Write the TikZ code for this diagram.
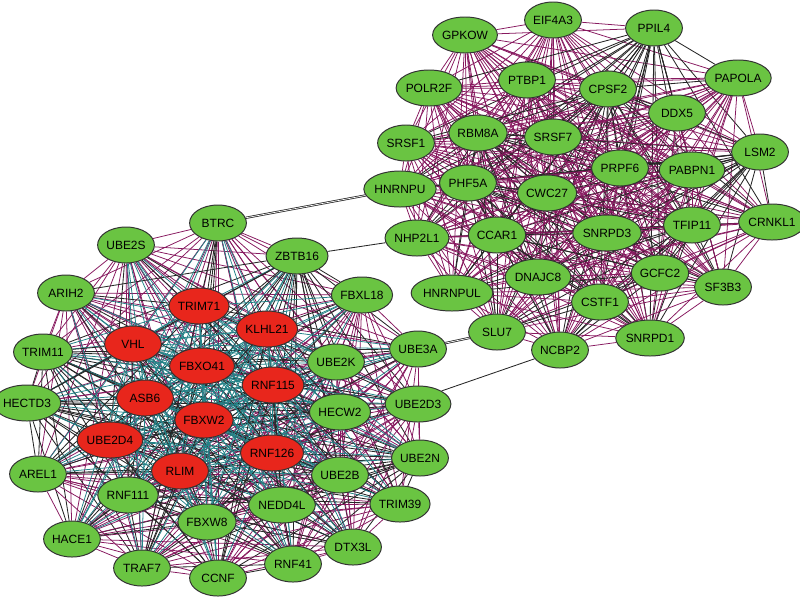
\documentclass[tikz,border=0pt]{standalone}
\usepackage{fontspec}
\setmainfont{Liberation Sans}
\usetikzlibrary{shapes.geometric,backgrounds}

\definecolor{nodegreen}{RGB}{106,196,66}
\definecolor{nodered}{RGB}{232,38,28}
\definecolor{edgepurple}{RGB}{135,25,95}
\definecolor{edgeteal}{RGB}{35,130,135}

\def\leftgreen{BTRC,UBE2S,ZBTB16,ARIH2,FBXL18,TRIM11,UBE3A,UBE2K,HECTD3,UBE2D3,HECW2,UBE2N,AREL1,UBE2B,RNF111,TRIM39,NEDD4L,FBXW8,DTX3L,HACE1,RNF41,TRAF7,CCNF}
\def\leftred{TRIM71,KLHL21,VHL,FBXO41,RNF115,ASB6,FBXW2,UBE2D4,RNF126,RLIM}
\def\rightgreen{EIF4A3,GPKOW,PPIL4,PTBP1,POLR2F,CPSF2,PAPOLA,DDX5,RBM8A,SRSF7,SRSF1,LSM2,PRPF6,PABPN1,PHF5A,HNRNPU,CWC27,TFIP11,CRNKL1,NHP2L1,CCAR1,SNRPD3,DNAJC8,GCFC2,SF3B3,HNRNPUL,CSTF1,SLU7,SNRPD1,NCBP2}

\begin{document}
\begin{tikzpicture}[x=0.025cm, y=-0.025cm]
        \tikzset{
            gene/.style={ellipse, draw=black!80, line width=0.7pt, inner sep=0pt,
                minimum width=1.42cm, minimum height=0.9cm,
                font=\fontsize{8.5}{8.5}\selectfont},
            gnode/.style={gene, fill=nodegreen},
            rnode/.style={gene, fill=nodered},
            blackedge/.style={black!85, line width=0.6pt},
            purpleedge/.style={edgepurple, line width=0.55pt},
            tealedge/.style={edgeteal, line width=0.55pt},
            linkedge/.style={black!85, line width=0.55pt, double=white, double distance=0.5pt}
        }
        \useasboundingbox (0,0) rectangle (800,599);

        % ubiquitin ligase cluster
        \node[gnode] (BTRC)    at (218,223) {BTRC};
        \node[gnode] (UBE2S)   at (126,245) {UBE2S};
        \node[gnode] (ZBTB16)  at (297,256) {ZBTB16};
        \node[gnode] (ARIH2)   at (66,293)  {ARIH2};
        \node[gnode] (FBXL18)  at (362,295) {FBXL18};
        \node[gnode] (TRIM11)  at (43,352)  {TRIM11};
        \node[gnode] (UBE3A)   at (418,349) {UBE3A};
        \node[gnode] (UBE2K)   at (336,362) {UBE2K};
        \node[gnode] (HECTD3)  at (27,403)  {HECTD3};
        \node[gnode] (UBE2D3)  at (418,404) {UBE2D3};
        \node[gnode] (HECW2)   at (340,412) {HECW2};
        \node[gnode] (UBE2N)   at (420,458) {UBE2N};
        \node[gnode] (AREL1)   at (38,474)  {AREL1};
        \node[gnode] (UBE2B)   at (340,475) {UBE2B};
        \node[gnode] (RNF111)  at (128,495) {RNF111};
        \node[gnode] (TRIM39)  at (400,504) {TRIM39};
        \node[gnode] (NEDD4L)  at (282,505) {NEDD4L};
        \node[gnode] (FBXW8)   at (207,522) {FBXW8};
        \node[gnode] (DTX3L)   at (353,547) {DTX3L};
        \node[gnode] (HACE1)   at (72,539)  {HACE1};
        \node[gnode] (RNF41)   at (293,564) {RNF41};
        \node[gnode] (TRAF7)   at (142,568) {TRAF7};
        \node[gnode] (CCNF)    at (218,578) {CCNF};

        \node[rnode] (TRIM71)  at (199,306) {TRIM71};
        \node[rnode] (KLHL21)  at (267,329) {KLHL21};
        \node[rnode] (VHL)     at (133,344) {VHL};
        \node[rnode] (FBXO41)  at (202,366) {FBXO41};
        \node[rnode] (RNF115)  at (273,385) {RNF115};
        \node[rnode] (ASB6)    at (145,398) {ASB6};
        \node[rnode] (FBXW2)   at (204,420) {FBXW2};
        \node[rnode] (UBE2D4)  at (110,440) {UBE2D4};
        \node[rnode] (RNF126)  at (272,453) {RNF126};
        \node[rnode] (RLIM)    at (180,471) {RLIM};

        % splicing cluster
        \node[gnode] (EIF4A3)  at (553,20)  {EIF4A3};
        \node[gnode] (GPKOW)   at (465,35)  {GPKOW};
        \node[gnode] (PPIL4)   at (654,28)  {PPIL4};
        \node[gnode] (PTBP1)   at (527,80)  {PTBP1};
        \node[gnode] (POLR2F)  at (429,88)  {POLR2F};
        \node[gnode] (CPSF2)   at (608,89)  {CPSF2};
        \node[gnode] (PAPOLA)  at (738,78)  {PAPOLA};
        \node[gnode] (DDX5)    at (677,113) {DDX5};
        \node[gnode] (RBM8A)   at (478,133) {RBM8A};
        \node[gnode] (SRSF7)   at (553,137) {SRSF7};
        \node[gnode] (SRSF1)   at (406,143) {SRSF1};
        \node[gnode] (LSM2)    at (760,152) {LSM2};
        \node[gnode] (PRPF6)   at (620,168) {PRPF6};
        \node[gnode] (PABPN1)  at (692,170) {PABPN1};
        \node[gnode] (PHF5A)   at (468,183) {PHF5A};
        \node[gnode] (HNRNPU)  at (400,189) {HNRNPU};
        \node[gnode] (CWC27)   at (547,193) {CWC27};
        \node[gnode] (TFIP11)  at (692,225) {TFIP11};
        \node[gnode] (CRNKL1)  at (772,222) {CRNKL1};
        \node[gnode] (NHP2L1)  at (417,238) {NHP2L1};
        \node[gnode] (CCAR1)   at (497,235) {CCAR1};
        \node[gnode] (SNRPD3)  at (607,233) {SNRPD3};
        \node[gnode] (DNAJC8)  at (538,277) {DNAJC8};
        \node[gnode] (GCFC2)   at (660,273) {GCFC2};
        \node[gnode] (SF3B3)   at (723,287) {SF3B3};
        \node[gnode] (HNRNPUL) at (452,293) {HNRNPUL};
        \node[gnode] (CSTF1)   at (600,302) {CSTF1};
        \node[gnode] (SLU7)    at (497,332) {SLU7};
        \node[gnode] (SNRPD1)  at (650,338) {SNRPD1};
        \node[gnode] (NCBP2)   at (560,350) {NCBP2};

        \begin{scope}[on background layer]
            % green to green
            \foreach \a [count=\i] in \leftgreen {
                \foreach \b [count=\j] in \leftgreen {
                    \ifnum\j>\i
                        \pgfmathtruncatemacro\k{mod(7*\i+3*\j,3)}
                        \ifnum\k=0 \draw[blackedge] (\a) -- (\b);
                        \else \draw[purpleedge] (\a) -- (\b); \fi
                    \fi
                }
            }
            % green to red
            \foreach \a [count=\i] in \leftgreen {
                \foreach \b [count=\j] in \leftred {
                    \pgfmathtruncatemacro\k{mod(\i+2*\j,3)}
                    \ifnum\k=0 \draw[blackedge] (\a) -- (\b);
                    \else \draw[tealedge] (\a) -- (\b); \fi
                }
            }
            % red to red
            \foreach \a [count=\i] in \leftred {
                \foreach \b [count=\j] in \leftred {
                    \ifnum\j>\i \draw[tealedge] (\a) -- (\b); \fi
                }
            }
            % right cluster
            \foreach \a [count=\i] in \rightgreen {
                \foreach \b [count=\j] in \rightgreen {
                    \ifnum\j>\i
                        \pgfmathtruncatemacro\k{mod(5*\i+3*\j,3)}
                        \ifnum\k=0 \draw[blackedge] (\a) -- (\b);
                        \else \draw[purpleedge] (\a) -- (\b); \fi
                    \fi
                }
            }
            % links between clusters
            \draw[linkedge] (BTRC) -- (HNRNPU);
            \draw[blackedge] (ZBTB16) -- (NHP2L1);
            \draw[linkedge] (UBE3A) -- (SLU7);
            \draw[blackedge] (UBE2D3.north east) -- (NCBP2);
        \end{scope}
    \end{tikzpicture}
\end{document}
